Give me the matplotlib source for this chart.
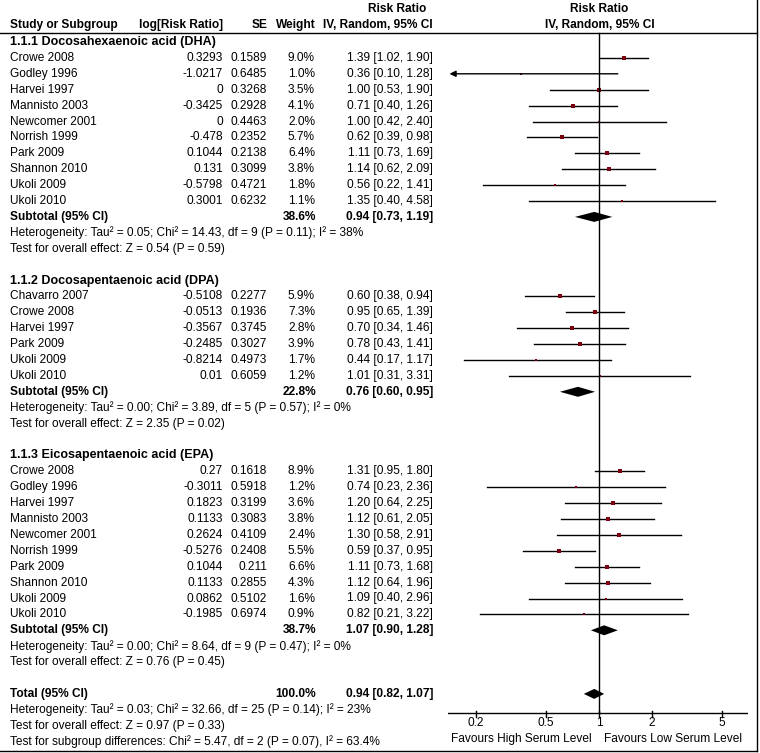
import matplotlib
matplotlib.use("Agg")
import matplotlib.pyplot as plt
import numpy as np

plt.rcParams['font.family'] = ['Liberation Sans', 'DejaVu Sans']

# ---------------- data ----------------
groups = ["1.1.1 Docosahexaenoic acid (DHA)",
          "1.1.2 Docosapentaenoic acid (DPA)",
          "1.1.3 Eicosapentaenoic acid (EPA)"]

dha_studies = ["Crowe 2008", "Godley 1996", "Harvei 1997", "Mannisto 2003", "Newcomer 2001",
               "Norrish 1999", "Park 2009", "Shannon 2010", "Ukoli 2009", "Ukoli 2010"]
dha_logrr = ["0.3293", "-1.0217", "0", "-0.3425", "0", "-0.478", "0.1044", "0.131", "-0.5798", "0.3001"]
dha_se = ["0.1589", "0.6485", "0.3268", "0.2928", "0.4463", "0.2352", "0.2138", "0.3099", "0.4721", "0.6232"]
dha_weight = [9.0, 1.0, 3.5, 4.1, 2.0, 5.7, 6.4, 3.8, 1.8, 1.1]
dha_rr = [1.39, 0.36, 1.00, 0.71, 1.00, 0.62, 1.11, 1.14, 0.56, 1.35]
dha_lo = [1.02, 0.10, 0.53, 0.40, 0.42, 0.39, 0.73, 0.62, 0.22, 0.40]
dha_hi = [1.90, 1.28, 1.90, 1.26, 2.40, 0.98, 1.69, 2.09, 1.41, 4.58]

dpa_studies = ["Chavarro 2007", "Crowe 2008", "Harvei 1997", "Park 2009", "Ukoli 2009", "Ukoli 2010"]
dpa_logrr = ["-0.5108", "-0.0513", "-0.3567", "-0.2485", "-0.8214", "0.01"]
dpa_se = ["0.2277", "0.1936", "0.3745", "0.3027", "0.4973", "0.6059"]
dpa_weight = [5.9, 7.3, 2.8, 3.9, 1.7, 1.2]
dpa_rr = [0.60, 0.95, 0.70, 0.78, 0.44, 1.01]
dpa_lo = [0.38, 0.65, 0.34, 0.43, 0.17, 0.31]
dpa_hi = [0.94, 1.39, 1.46, 1.41, 1.17, 3.31]

epa_studies = ["Crowe 2008", "Godley 1996", "Harvei 1997", "Mannisto 2003", "Newcomer 2001",
               "Norrish 1999", "Park 2009", "Shannon 2010", "Ukoli 2009", "Ukoli 2010"]
epa_logrr = ["0.27", "-0.3011", "0.1823", "0.1133", "0.2624", "-0.5276", "0.1044", "0.1133", "0.0862", "-0.1985"]
epa_se = ["0.1618", "0.5918", "0.3199", "0.3083", "0.4109", "0.2408", "0.211", "0.2855", "0.5102", "0.6974"]
epa_weight = [8.9, 1.2, 3.6, 3.8, 2.4, 5.5, 6.6, 4.3, 1.6, 0.9]
epa_rr = [1.31, 0.74, 1.20, 1.12, 1.30, 0.59, 1.11, 1.12, 1.09, 0.82]
epa_lo = [0.95, 0.23, 0.64, 0.61, 0.58, 0.37, 0.73, 0.64, 0.40, 0.21]
epa_hi = [1.80, 2.36, 2.25, 2.05, 2.91, 0.95, 1.68, 1.96, 2.96, 3.22]

sub_weight = [38.6, 22.8, 38.7]
sub_rr = [0.94, 0.76, 1.07]
sub_lo = [0.73, 0.60, 0.90]
sub_hi = [1.19, 0.95, 1.28]
sub_het = ["Heterogeneity: Tau² = 0.05; Chi² = 14.43, df = 9 (P = 0.11); I² = 38%",
           "Heterogeneity: Tau² = 0.00; Chi² = 3.89, df = 5 (P = 0.57); I² = 0%",
           "Heterogeneity: Tau² = 0.00; Chi² = 8.64, df = 9 (P = 0.47); I² = 0%"]
sub_test = ["Test for overall effect: Z = 0.54 (P = 0.59)",
            "Test for overall effect: Z = 2.35 (P = 0.02)",
            "Test for overall effect: Z = 0.76 (P = 0.45)"]

total_weight = 100.0
total_rr, total_lo, total_hi = 0.94, 0.82, 1.07
total_het = "Heterogeneity: Tau² = 0.03; Chi² = 32.66, df = 25 (P = 0.14); I² = 23%"
total_test = "Test for overall effect: Z = 0.97 (P = 0.33)"
subgroup_test = "Test for subgroup differences: Chi² = 5.47, df = 2 (P = 0.07), I² = 63.4%"

tick_vals = [0.2, 0.5, 1, 2, 5]
tick_labels = ["0.2", "0.5", "1", "2", "5"]

# ---------------- layout ----------------
W, H = 760, 753
fig = plt.figure(figsize=(W / 100, H / 100), dpi=100)
fig.patch.set_facecolor("white")
ax = fig.add_axes([0, 0, 1, 1])
ax.set_xlim(0, W)
ax.set_ylim(H, 0)
ax.axis("off")

XMIN, XMAX = 0.1387, 7.03
fx = fig.add_axes([448 / W, 0, 300 / W, 1])
fx.set_xscale("log")
fx.set_xlim(XMIN, XMAX)
fx.set_ylim(H, 0)
fx.axis("off")
fx.patch.set_alpha(0)

FS = 8.6
Y0, DY = 42.0, 15.9


def ry(r):
    return Y0 + DY * r


X_NAME, X_LOG, X_SE, X_W, X_CI = 10, 223, 267, 316, 433
MCOL = "#7a0010"

# header
ax.text(397, 9, "Risk Ratio", fontsize=FS, fontweight="bold", ha="center", va="center")
ax.text(599, 9, "Risk Ratio", fontsize=FS, fontweight="bold", ha="center", va="center")
hy = 25
ax.text(X_NAME, hy, "Study or Subgroup", fontsize=FS, fontweight="bold", ha="left", va="center")
ax.text(X_LOG, hy, "log[Risk Ratio]", fontsize=FS, fontweight="bold", ha="right", va="center")
ax.text(X_SE + 1, hy, "SE", fontsize=FS, fontweight="bold", ha="right", va="center")
ax.text(X_W, hy, "Weight", fontsize=FS, fontweight="bold", ha="right", va="center")
ax.text(X_CI, hy, "IV, Random, 95% CI", fontsize=FS, fontweight="bold", ha="right", va="center")
ax.text(600, hy, "IV, Random, 95% CI", fontsize=FS, fontweight="bold", ha="center", va="center")
ax.plot([0, 757], [33, 33], color="black", lw=1.0)

# borders (right and bottom)
ax.plot([757, 757], [0, 751], color="black", lw=1.0)
ax.plot([0, 757], [751, 751], color="black", lw=1.0)


def diamond(y, est, lo, hi, half=5):
    fx.fill([lo, est, hi, est], [y, y - half, y, y + half], color="black", lw=0)


def fmt_ci(rr, lo, hi):
    return f"{rr:.2f} [{lo:.2f}, {hi:.2f}]"


all_groups = [
    (dha_studies, dha_logrr, dha_se, dha_weight, dha_rr, dha_lo, dha_hi),
    (dpa_studies, dpa_logrr, dpa_se, dpa_weight, dpa_rr, dpa_lo, dpa_hi),
    (epa_studies, epa_logrr, epa_se, epa_weight, epa_rr, epa_lo, epa_hi),
]

row = 0
for g, (names, lrr, se, wt, rr, lo, hi) in enumerate(all_groups):
    ax.text(X_NAME, ry(row), groups[g], fontsize=FS + 0.4, fontweight="bold", ha="left", va="center")
    row += 1
    for i in range(len(names)):
        y = ry(row)
        ax.text(X_NAME, y, names[i], fontsize=FS, ha="left", va="center")
        ax.text(X_LOG, y, lrr[i], fontsize=FS, ha="right", va="center")
        ax.text(X_SE, y, se[i], fontsize=FS, ha="right", va="center")
        ax.text(X_W - 1, y, f"{wt[i]:.1f}%", fontsize=FS, ha="right", va="center")
        ax.text(X_CI, y, fmt_ci(rr[i], lo[i], hi[i]), fontsize=FS, ha="right", va="center")
        if lo[i] < XMIN:
            fx.annotate("", xy=(XMIN * 1.02, y), xytext=(hi[i], y),
                        arrowprops=dict(arrowstyle="-|>", color="black", lw=1.0,
                                        mutation_scale=9, shrinkA=0, shrinkB=0))
        else:
            fx.plot([lo[i], min(hi[i], XMAX)], [y, y], color="black", lw=1.0)
        side = 2.4 + 0.28 * wt[i]
        fx.plot([rr[i]], [y], marker="s", markersize=side * 0.72, color=MCOL, mec=MCOL, mew=0)
        row += 1
    y = ry(row)
    ax.text(X_NAME, y, "Subtotal (95% CI)", fontsize=FS, fontweight="bold", ha="left", va="center")
    ax.text(X_W, y, f"{sub_weight[g]:.1f}%", fontsize=FS, fontweight="bold", ha="right", va="center")
    ax.text(X_CI, y, fmt_ci(sub_rr[g], sub_lo[g], sub_hi[g]), fontsize=FS, fontweight="bold",
            ha="right", va="center")
    diamond(y, sub_rr[g], sub_lo[g], sub_hi[g])
    row += 1
    ax.text(X_NAME, ry(row), sub_het[g], fontsize=FS, ha="left", va="center")
    row += 1
    ax.text(X_NAME, ry(row), sub_test[g], fontsize=FS, ha="left", va="center")
    row += 2

y = ry(row)
ax.text(X_NAME, y, "Total (95% CI)", fontsize=FS, fontweight="bold", ha="left", va="center")
ax.text(X_W, y, f"{total_weight:.1f}%", fontsize=FS, fontweight="bold", ha="right", va="center")
ax.text(X_CI, y, fmt_ci(total_rr, total_lo, total_hi), fontsize=FS, fontweight="bold",
        ha="right", va="center")
diamond(y, total_rr, total_lo, total_hi)
row += 1
ax.text(X_NAME, ry(row), total_het, fontsize=FS, ha="left", va="center")
row += 1
ax.text(X_NAME, ry(row), total_test, fontsize=FS, ha="left", va="center")
row += 1
ax.text(X_NAME, ry(row), subgroup_test, fontsize=FS, ha="left", va="center")

# forest axis
AX_Y = 713
fx.plot([1, 1], [33, AX_Y], color="black", lw=1.0)
fx.plot([XMIN, XMAX], [AX_Y, AX_Y], color="black", lw=1.0)
for v, lab in zip(tick_vals, tick_labels):
    fx.plot([v, v], [AX_Y - 2, AX_Y + 4], color="black", lw=1.0)
    fx.text(v, AX_Y + 10, lab, fontsize=FS, ha="center", va="center")
ax.text(592, 739, "Favours High Serum Level", fontsize=FS, ha="right", va="center")
ax.text(604, 739, "Favours Low Serum Level", fontsize=FS, ha="left", va="center")

fig.savefig("out.png", dpi=100, facecolor="white")
